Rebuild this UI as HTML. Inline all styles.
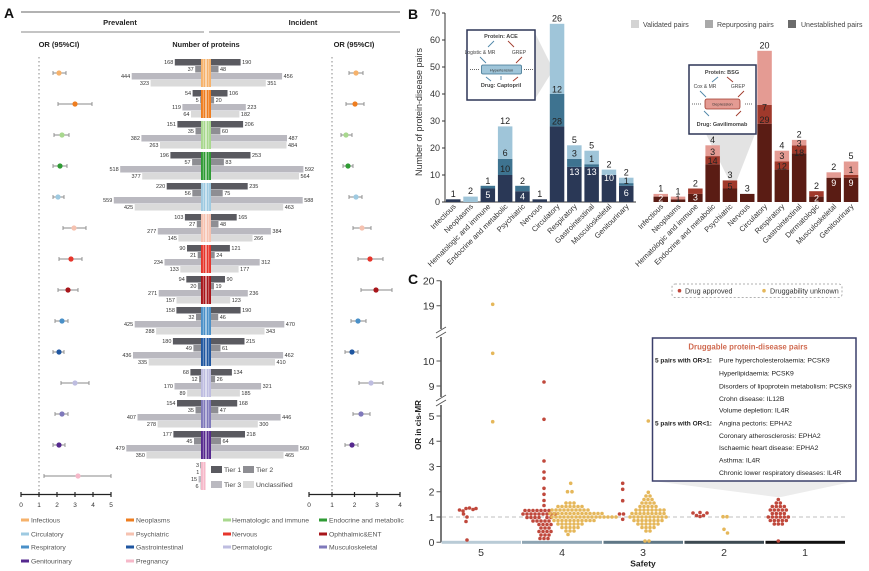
<!DOCTYPE html>
<html><head><meta charset="utf-8"><style>
html,body{margin:0;padding:0;background:#fff;}
body{width:869px;height:571px;overflow:hidden;}
svg{display:block;}
text{font-family:"Liberation Sans",Arial,sans-serif;}
.l{font-size:5.5px;text-anchor:end;fill:#333;}
.r{font-size:5.5px;fill:#333;}
.c1{fill:#5a5a60}.c2{fill:#8e8e93}.c3{fill:#bab9c0}.c4{fill:#dadada}
.eb{stroke:#8a8a8a;stroke-width:0.9;fill:none;}
.bl{font-size:9px;text-anchor:middle;fill:#222;}
.bw{font-size:9px;text-anchor:middle;fill:#fff;}
.xl{font-size:7.5px;text-anchor:end;fill:#333;}
.lg{font-size:6.8px;fill:#555;}
.it{font-size:6.8px;fill:#222;}
</style></head><body>
<svg width="869" height="571" viewBox="0 0 869 571" xmlns="http://www.w3.org/2000/svg">
<rect width="869" height="571" fill="#fff"/>

<!-- ================= PANEL A ================= -->
<text x="4" y="18" font-size="14" font-weight="bold" fill="#111">A</text>
<line x1="21" y1="12" x2="400" y2="12" stroke="#666" stroke-width="1"/>
<text x="120" y="25" font-size="7.5" font-weight="bold" text-anchor="middle" fill="#222">Prevalent</text>
<text x="303" y="25" font-size="7.5" font-weight="bold" text-anchor="middle" fill="#222">Incident</text>
<line x1="21" y1="32" x2="204" y2="32" stroke="#888" stroke-width="1"/>
<line x1="209" y1="32" x2="400" y2="32" stroke="#888" stroke-width="1"/>
<text x="59" y="47" font-size="7.5" font-weight="bold" text-anchor="middle" fill="#222">OR (95%CI)</text>
<text x="206" y="47" font-size="7.3" font-weight="bold" text-anchor="middle" fill="#222">Number of proteins</text>
<text x="354" y="47" font-size="7.5" font-weight="bold" text-anchor="middle" fill="#222">OR (95%CI)</text>

<line x1="39" y1="57" x2="39" y2="493" stroke="#888" stroke-width="1" stroke-dasharray="1.5,2.5"/>
<line x1="332" y1="57" x2="332" y2="493" stroke="#888" stroke-width="1" stroke-dasharray="1.5,2.5"/>

<!-- G0 Infectious -->
<g transform="translate(0,59)">
<rect class="c1" x="174.8" y="0" width="26.2" height="6.5"/><rect class="c2" x="195.2" y="7" width="5.8" height="6.5"/><rect class="c3" x="131.7" y="14" width="69.3" height="6.5"/><rect class="c4" x="150.6" y="21" width="50.4" height="6.5"/>
<text class="l" x="173.3" y="5.2">168</text><text class="l" x="193.7" y="12.2">37</text><text class="l" x="130.2" y="19.2">444</text><text class="l" x="149.1" y="26.2">323</text>
<rect class="c1" x="211" y="0" width="29.6" height="6.5"/><rect class="c2" x="211" y="7" width="7.5" height="6.5"/><rect class="c3" x="211" y="14" width="71.1" height="6.5"/><rect class="c4" x="211" y="21" width="54.8" height="6.5"/>
<text class="r" x="242.1" y="5.2">190</text><text class="r" x="220" y="12.2">48</text><text class="r" x="283.6" y="19.2">456</text><text class="r" x="267.3" y="26.2">351</text>
<g fill="#f6b26b"><rect x="201" y="0" width="4.5" height="28"/><rect x="206.5" y="0" width="4.5" height="28"/></g>
<g fill="#fff" opacity=".55"><rect x="202.9" y="0" width="0.7" height="28"/><rect x="208.4" y="0" width="0.7" height="28"/></g>
<path class="eb" d="M53 14H66M53 12V16M66 12V16"/><circle cx="59" cy="14" r="2.6" fill="#f6b26b"/>
<path class="eb" d="M349 14H363M349 12V16M363 12V16"/><circle cx="356" cy="14" r="2.6" fill="#f6b26b"/>
</g>
<!-- G1 Neoplasms -->
<g transform="translate(0,90)">
<rect class="c1" x="192.6" y="0" width="8.4" height="6.5"/><rect class="c2" x="200.2" y="7" width="0.8" height="6.5"/><rect class="c3" x="182.4" y="14" width="18.6" height="6.5"/><rect class="c4" x="191" y="21" width="10" height="6.5"/>
<text class="l" x="191.1" y="5.2">54</text><text class="l" x="198.7" y="12.2">5</text><text class="l" x="180.9" y="19.2">119</text><text class="l" x="189.5" y="26.2">64</text>
<rect class="c1" x="211" y="0" width="16.5" height="6.5"/><rect class="c2" x="211" y="7" width="3.1" height="6.5"/><rect class="c3" x="211" y="14" width="34.8" height="6.5"/><rect class="c4" x="211" y="21" width="28.4" height="6.5"/>
<text class="r" x="229" y="5.2">106</text><text class="r" x="215.6" y="12.2">20</text><text class="r" x="247.3" y="19.2">223</text><text class="r" x="240.9" y="26.2">182</text>
<g fill="#ee7d1f"><rect x="201" y="0" width="4.5" height="28"/><rect x="206.5" y="0" width="4.5" height="28"/></g>
<g fill="#fff" opacity=".55"><rect x="202.9" y="0" width="0.7" height="28"/><rect x="208.4" y="0" width="0.7" height="28"/></g>
<path class="eb" d="M58 14H92M58 12V16M92 12V16"/><circle cx="75" cy="14" r="2.6" fill="#ee7d1f"/>
<path class="eb" d="M346 14H364M346 12V16M364 12V16"/><circle cx="355" cy="14" r="2.6" fill="#ee7d1f"/>
</g>
<!-- G2 Hematologic -->
<g transform="translate(0,121)">
<rect class="c1" x="177.4" y="0" width="23.6" height="6.5"/><rect class="c2" x="195.5" y="7" width="5.5" height="6.5"/><rect class="c3" x="141.4" y="14" width="59.6" height="6.5"/><rect class="c4" x="160" y="21" width="41" height="6.5"/>
<text class="l" x="175.9" y="5.2">151</text><text class="l" x="194" y="12.2">35</text><text class="l" x="139.9" y="19.2">382</text><text class="l" x="158.5" y="26.2">263</text>
<rect class="c1" x="211" y="0" width="32.1" height="6.5"/><rect class="c2" x="211" y="7" width="9.4" height="6.5"/><rect class="c3" x="211" y="14" width="76" height="6.5"/><rect class="c4" x="211" y="21" width="75.5" height="6.5"/>
<text class="r" x="244.6" y="5.2">206</text><text class="r" x="221.9" y="12.2">60</text><text class="r" x="288.5" y="19.2">487</text><text class="r" x="288" y="26.2">484</text>
<g fill="#a8d88e"><rect x="201" y="0" width="4.5" height="28"/><rect x="206.5" y="0" width="4.5" height="28"/></g>
<g fill="#fff" opacity=".55"><rect x="202.9" y="0" width="0.7" height="28"/><rect x="208.4" y="0" width="0.7" height="28"/></g>
<path class="eb" d="M54 14H69M54 12V16M69 12V16"/><circle cx="62" cy="14" r="2.6" fill="#a8d88e"/>
<path class="eb" d="M341 14H352M341 12V16M352 12V16"/><circle cx="346" cy="14" r="2.6" fill="#a8d88e"/>
</g>
<!-- G3 Endocrine -->
<g transform="translate(0,152)">
<rect class="c1" x="170.4" y="0" width="30.6" height="6.5"/><rect class="c2" x="192.1" y="7" width="8.9" height="6.5"/><rect class="c3" x="120.2" y="14" width="80.8" height="6.5"/><rect class="c4" x="142.2" y="21" width="58.8" height="6.5"/>
<text class="l" x="168.9" y="5.2">196</text><text class="l" x="190.6" y="12.2">57</text><text class="l" x="118.7" y="19.2">518</text><text class="l" x="140.7" y="26.2">377</text>
<rect class="c1" x="211" y="0" width="39.5" height="6.5"/><rect class="c2" x="211" y="7" width="12.9" height="6.5"/><rect class="c3" x="211" y="14" width="92.4" height="6.5"/><rect class="c4" x="211" y="21" width="88" height="6.5"/>
<text class="r" x="252" y="5.2">253</text><text class="r" x="225.4" y="12.2">83</text><text class="r" x="304.9" y="19.2">592</text><text class="r" x="300.5" y="26.2">564</text>
<g fill="#2f9b34"><rect x="201" y="0" width="4.5" height="28"/><rect x="206.5" y="0" width="4.5" height="28"/></g>
<g fill="#fff" opacity=".55"><rect x="202.9" y="0" width="0.7" height="28"/><rect x="208.4" y="0" width="0.7" height="28"/></g>
<path class="eb" d="M53 14H67M53 12V16M67 12V16"/><circle cx="60" cy="14" r="2.6" fill="#2f9b34"/>
<path class="eb" d="M343 14H353M343 12V16M353 12V16"/><circle cx="348" cy="14" r="2.6" fill="#2f9b34"/>
</g>
<!-- G4 Circulatory -->
<g transform="translate(0,183)">
<rect class="c1" x="166.7" y="0" width="34.3" height="6.5"/><rect class="c2" x="192.3" y="7" width="8.7" height="6.5"/><rect class="c3" x="113.8" y="14" width="87.2" height="6.5"/><rect class="c4" x="134.7" y="21" width="66.3" height="6.5"/>
<text class="l" x="165.2" y="5.2">220</text><text class="l" x="190.8" y="12.2">56</text><text class="l" x="112.3" y="19.2">559</text><text class="l" x="133.2" y="26.2">425</text>
<rect class="c1" x="211" y="0" width="36.7" height="6.5"/><rect class="c2" x="211" y="7" width="11.7" height="6.5"/><rect class="c3" x="211" y="14" width="91.7" height="6.5"/><rect class="c4" x="211" y="21" width="72.2" height="6.5"/>
<text class="r" x="249.2" y="5.2">235</text><text class="r" x="224.2" y="12.2">75</text><text class="r" x="304.2" y="19.2">588</text><text class="r" x="284.7" y="26.2">463</text>
<g fill="#9ecae1"><rect x="201" y="0" width="4.5" height="28"/><rect x="206.5" y="0" width="4.5" height="28"/></g>
<g fill="#fff" opacity=".55"><rect x="202.9" y="0" width="0.7" height="28"/><rect x="208.4" y="0" width="0.7" height="28"/></g>
<path class="eb" d="M53 14H64M53 12V16M64 12V16"/><circle cx="58" cy="14" r="2.6" fill="#9ecae1"/>
<path class="eb" d="M349 14H362M349 12V16M362 12V16"/><circle cx="356" cy="14" r="2.6" fill="#9ecae1"/>
</g>
<!-- G5 Psychiatric -->
<g transform="translate(0,214)">
<rect class="c1" x="184.9" y="0" width="16.1" height="6.5"/><rect class="c2" x="196.8" y="7" width="4.2" height="6.5"/><rect class="c3" x="157.8" y="14" width="43.2" height="6.5"/><rect class="c4" x="178.4" y="21" width="22.6" height="6.5"/>
<text class="l" x="183.4" y="5.2">103</text><text class="l" x="195.3" y="12.2">27</text><text class="l" x="156.3" y="19.2">277</text><text class="l" x="176.9" y="26.2">145</text>
<rect class="c1" x="211" y="0" width="25.7" height="6.5"/><rect class="c2" x="211" y="7" width="7.5" height="6.5"/><rect class="c3" x="211" y="14" width="59.9" height="6.5"/><rect class="c4" x="211" y="21" width="41.5" height="6.5"/>
<text class="r" x="238.2" y="5.2">165</text><text class="r" x="220" y="12.2">48</text><text class="r" x="272.4" y="19.2">384</text><text class="r" x="254" y="26.2">266</text>
<g fill="#f6c2b0"><rect x="201" y="0" width="4.5" height="28"/><rect x="206.5" y="0" width="4.5" height="28"/></g>
<g fill="#fff" opacity=".55"><rect x="202.9" y="0" width="0.7" height="28"/><rect x="208.4" y="0" width="0.7" height="28"/></g>
<path class="eb" d="M63 14H86M63 12V16M86 12V16"/><circle cx="74" cy="14" r="2.6" fill="#f6c2b0"/>
<path class="eb" d="M353 14H371M353 12V16M371 12V16"/><circle cx="362" cy="14" r="2.6" fill="#f6c2b0"/>
</g>
<!-- G6 Nervous -->
<g transform="translate(0,245)">
<rect class="c1" x="187" y="0" width="14" height="6.5"/><rect class="c2" x="197.7" y="7" width="3.3" height="6.5"/><rect class="c3" x="164.5" y="14" width="36.5" height="6.5"/><rect class="c4" x="180.3" y="21" width="20.7" height="6.5"/>
<text class="l" x="185.5" y="5.2">90</text><text class="l" x="196.2" y="12.2">21</text><text class="l" x="163" y="19.2">234</text><text class="l" x="178.8" y="26.2">133</text>
<rect class="c1" x="211" y="0" width="18.9" height="6.5"/><rect class="c2" x="211" y="7" width="3.7" height="6.5"/><rect class="c3" x="211" y="14" width="48.7" height="6.5"/><rect class="c4" x="211" y="21" width="27.6" height="6.5"/>
<text class="r" x="231.4" y="5.2">121</text><text class="r" x="216.2" y="12.2">24</text><text class="r" x="261.2" y="19.2">312</text><text class="r" x="240.1" y="26.2">177</text>
<g fill="#e6352b"><rect x="201" y="0" width="4.5" height="28"/><rect x="206.5" y="0" width="4.5" height="28"/></g>
<g fill="#fff" opacity=".55"><rect x="202.9" y="0" width="0.7" height="28"/><rect x="208.4" y="0" width="0.7" height="28"/></g>
<path class="eb" d="M59 14H82M59 12V16M82 12V16"/><circle cx="71" cy="14" r="2.6" fill="#e6352b"/>
<path class="eb" d="M358 14H383M358 12V16M383 12V16"/><circle cx="370" cy="14" r="2.6" fill="#e6352b"/>
</g>
<!-- G7 Ophthalmic -->
<g transform="translate(0,276)">
<rect class="c1" x="186.3" y="0" width="14.7" height="6.5"/><rect class="c2" x="197.9" y="7" width="3.1" height="6.5"/><rect class="c3" x="158.7" y="14" width="42.3" height="6.5"/><rect class="c4" x="176.5" y="21" width="24.5" height="6.5"/>
<text class="l" x="184.8" y="5.2">94</text><text class="l" x="196.4" y="12.2">20</text><text class="l" x="157.2" y="19.2">271</text><text class="l" x="175" y="26.2">157</text>
<rect class="c1" x="211" y="0" width="14" height="6.5"/><rect class="c2" x="211" y="7" width="3" height="6.5"/><rect class="c3" x="211" y="14" width="36.8" height="6.5"/><rect class="c4" x="211" y="21" width="19.2" height="6.5"/>
<text class="r" x="226.5" y="5.2">90</text><text class="r" x="215.5" y="12.2">19</text><text class="r" x="249.3" y="19.2">236</text><text class="r" x="231.7" y="26.2">123</text>
<g fill="#a8151a"><rect x="201" y="0" width="4.5" height="28"/><rect x="206.5" y="0" width="4.5" height="28"/></g>
<g fill="#fff" opacity=".55"><rect x="202.9" y="0" width="0.7" height="28"/><rect x="208.4" y="0" width="0.7" height="28"/></g>
<path class="eb" d="M58 14H78M58 12V16M78 12V16"/><circle cx="68" cy="14" r="2.6" fill="#a8151a"/>
<path class="eb" d="M361 14H392M361 12V16M392 12V16"/><circle cx="376" cy="14" r="2.6" fill="#a8151a"/>
</g>
<!-- G8 Respiratory -->
<g transform="translate(0,307)">
<rect class="c1" x="176.4" y="0" width="24.6" height="6.5"/><rect class="c2" x="196" y="7" width="5" height="6.5"/><rect class="c3" x="134.7" y="14" width="66.3" height="6.5"/><rect class="c4" x="156.1" y="21" width="44.9" height="6.5"/>
<text class="l" x="174.9" y="5.2">158</text><text class="l" x="194.5" y="12.2">32</text><text class="l" x="133.2" y="19.2">425</text><text class="l" x="154.6" y="26.2">288</text>
<rect class="c1" x="211" y="0" width="29.6" height="6.5"/><rect class="c2" x="211" y="7" width="7.2" height="6.5"/><rect class="c3" x="211" y="14" width="73.3" height="6.5"/><rect class="c4" x="211" y="21" width="53.5" height="6.5"/>
<text class="r" x="242.1" y="5.2">190</text><text class="r" x="219.7" y="12.2">46</text><text class="r" x="285.8" y="19.2">470</text><text class="r" x="266" y="26.2">343</text>
<g fill="#4a90c8"><rect x="201" y="0" width="4.5" height="28"/><rect x="206.5" y="0" width="4.5" height="28"/></g>
<g fill="#fff" opacity=".55"><rect x="202.9" y="0" width="0.7" height="28"/><rect x="208.4" y="0" width="0.7" height="28"/></g>
<path class="eb" d="M55 14H68M55 12V16M68 12V16"/><circle cx="62" cy="14" r="2.6" fill="#4a90c8"/>
<path class="eb" d="M351 14H366M351 12V16M366 12V16"/><circle cx="358" cy="14" r="2.6" fill="#4a90c8"/>
</g>
<!-- G9 Gastrointestinal -->
<g transform="translate(0,338)">
<rect class="c1" x="172.9" y="0" width="28.1" height="6.5"/><rect class="c2" x="193.4" y="7" width="7.6" height="6.5"/><rect class="c3" x="133" y="14" width="68" height="6.5"/><rect class="c4" x="148.7" y="21" width="52.3" height="6.5"/>
<text class="l" x="171.4" y="5.2">180</text><text class="l" x="191.9" y="12.2">49</text><text class="l" x="131.5" y="19.2">436</text><text class="l" x="147.2" y="26.2">335</text>
<rect class="c1" x="211" y="0" width="33.5" height="6.5"/><rect class="c2" x="211" y="7" width="9.5" height="6.5"/><rect class="c3" x="211" y="14" width="72.1" height="6.5"/><rect class="c4" x="211" y="21" width="64" height="6.5"/>
<text class="r" x="246" y="5.2">215</text><text class="r" x="222" y="12.2">61</text><text class="r" x="284.6" y="19.2">462</text><text class="r" x="276.5" y="26.2">410</text>
<g fill="#1f56a0"><rect x="201" y="0" width="4.5" height="28"/><rect x="206.5" y="0" width="4.5" height="28"/></g>
<g fill="#fff" opacity=".55"><rect x="202.9" y="0" width="0.7" height="28"/><rect x="208.4" y="0" width="0.7" height="28"/></g>
<path class="eb" d="M53 14H64M53 12V16M64 12V16"/><circle cx="59" cy="14" r="2.6" fill="#1f56a0"/>
<path class="eb" d="M345 14H358M345 12V16M358 12V16"/><circle cx="352" cy="14" r="2.6" fill="#1f56a0"/>
</g>
<!-- G10 Dermatologic -->
<g transform="translate(0,369)">
<rect class="c1" x="190.4" y="0" width="10.6" height="6.5"/><rect class="c2" x="199.1" y="7" width="1.9" height="6.5"/><rect class="c3" x="174.5" y="14" width="26.5" height="6.5"/><rect class="c4" x="187.1" y="21" width="13.9" height="6.5"/>
<text class="l" x="188.9" y="5.2">68</text><text class="l" x="197.6" y="12.2">12</text><text class="l" x="173" y="19.2">170</text><text class="l" x="185.6" y="26.2">89</text>
<rect class="c1" x="211" y="0" width="20.9" height="6.5"/><rect class="c2" x="211" y="7" width="4.1" height="6.5"/><rect class="c3" x="211" y="14" width="50.1" height="6.5"/><rect class="c4" x="211" y="21" width="28.9" height="6.5"/>
<text class="r" x="233.4" y="5.2">134</text><text class="r" x="216.6" y="12.2">26</text><text class="r" x="262.6" y="19.2">321</text><text class="r" x="241.4" y="26.2">185</text>
<g fill="#bebde0"><rect x="201" y="0" width="4.5" height="28"/><rect x="206.5" y="0" width="4.5" height="28"/></g>
<g fill="#fff" opacity=".55"><rect x="202.9" y="0" width="0.7" height="28"/><rect x="208.4" y="0" width="0.7" height="28"/></g>
<path class="eb" d="M61 14H89M61 12V16M89 12V16"/><circle cx="75" cy="14" r="2.6" fill="#bebde0"/>
<path class="eb" d="M359 14H383M359 12V16M383 12V16"/><circle cx="371" cy="14" r="2.6" fill="#bebde0"/>
</g>
<!-- G11 Musculoskeletal -->
<g transform="translate(0,400)">
<rect class="c1" x="177" y="0" width="24" height="6.5"/><rect class="c2" x="195.5" y="7" width="5.5" height="6.5"/><rect class="c3" x="137.5" y="14" width="63.5" height="6.5"/><rect class="c4" x="157.6" y="21" width="43.4" height="6.5"/>
<text class="l" x="175.5" y="5.2">154</text><text class="l" x="194" y="12.2">35</text><text class="l" x="136" y="19.2">407</text><text class="l" x="156.1" y="26.2">278</text>
<rect class="c1" x="211" y="0" width="26.2" height="6.5"/><rect class="c2" x="211" y="7" width="7.3" height="6.5"/><rect class="c3" x="211" y="14" width="69.6" height="6.5"/><rect class="c4" x="211" y="21" width="46.8" height="6.5"/>
<text class="r" x="238.7" y="5.2">168</text><text class="r" x="219.8" y="12.2">47</text><text class="r" x="282.1" y="19.2">446</text><text class="r" x="259.3" y="26.2">300</text>
<g fill="#7f79bb"><rect x="201" y="0" width="4.5" height="28"/><rect x="206.5" y="0" width="4.5" height="28"/></g>
<g fill="#fff" opacity=".55"><rect x="202.9" y="0" width="0.7" height="28"/><rect x="208.4" y="0" width="0.7" height="28"/></g>
<path class="eb" d="M55 14H68M55 12V16M68 12V16"/><circle cx="62" cy="14" r="2.6" fill="#7f79bb"/>
<path class="eb" d="M353 14H370M353 12V16M370 12V16"/><circle cx="361" cy="14" r="2.6" fill="#7f79bb"/>
</g>
<!-- G12 Genitourinary -->
<g transform="translate(0,431)">
<rect class="c1" x="173.4" y="0" width="27.6" height="6.5"/><rect class="c2" x="194" y="7" width="7" height="6.5"/><rect class="c3" x="126.3" y="14" width="74.7" height="6.5"/><rect class="c4" x="146.4" y="21" width="54.6" height="6.5"/>
<text class="l" x="171.9" y="5.2">177</text><text class="l" x="192.5" y="12.2">45</text><text class="l" x="124.8" y="19.2">479</text><text class="l" x="144.9" y="26.2">350</text>
<rect class="c1" x="211" y="0" width="34" height="6.5"/><rect class="c2" x="211" y="7" width="10" height="6.5"/><rect class="c3" x="211" y="14" width="87.4" height="6.5"/><rect class="c4" x="211" y="21" width="72.5" height="6.5"/>
<text class="r" x="246.5" y="5.2">218</text><text class="r" x="222.5" y="12.2">64</text><text class="r" x="299.9" y="19.2">560</text><text class="r" x="285" y="26.2">465</text>
<g fill="#56298f"><rect x="201" y="0" width="4.5" height="28"/><rect x="206.5" y="0" width="4.5" height="28"/></g>
<g fill="#fff" opacity=".55"><rect x="202.9" y="0" width="0.7" height="28"/><rect x="208.4" y="0" width="0.7" height="28"/></g>
<path class="eb" d="M53 14H65M53 12V16M65 12V16"/><circle cx="59" cy="14" r="2.6" fill="#56298f"/>
<path class="eb" d="M345 14H358M345 12V16M358 12V16"/><circle cx="352" cy="14" r="2.6" fill="#56298f"/>
</g>
<!-- G13 Pregnancy -->
<g transform="translate(0,462)">
<rect class="c1" x="200.5" y="0" width="0.5" height="6.5"/><rect class="c2" x="200.8" y="7" width="0.2" height="6.5"/><rect class="c3" x="198.6" y="14" width="2.4" height="6.5"/><rect class="c4" x="200.1" y="21" width="0.9" height="6.5"/>
<text class="l" x="199" y="5.2">3</text><text class="l" x="199.3" y="12.2">1</text><text class="l" x="197.1" y="19.2">15</text><text class="l" x="198.6" y="26.2">6</text>
<rect x="201" y="0" width="4.5" height="28" fill="#f6b8c9"/>
<rect x="202.9" y="0" width="0.7" height="28" fill="#fff" opacity=".55"/>
<path class="eb" d="M44 14H111M44 12V16M111 12V16"/><circle cx="78" cy="14" r="2.6" fill="#f6b8c9"/>
</g>

<!-- tier legend -->
<rect class="c1" x="211" y="466" width="11" height="7"/><text x="224" y="472" font-size="6.8" fill="#444">Tier 1</text>
<rect class="c2" x="243" y="466" width="11" height="7"/><text x="256" y="472" font-size="6.8" fill="#444">Tier 2</text>
<rect class="c3" x="211" y="481" width="11" height="7"/><text x="224" y="487" font-size="6.8" fill="#444">Tier 3</text>
<rect class="c4" x="243" y="481" width="11" height="7"/><text x="256" y="487" font-size="6.8" fill="#444">Unclassified</text>

<!-- OR axes -->
<g stroke="#222" stroke-width="1.2" fill="none">
<path d="M21 494.5H111M21 492V497M39 492V497M57 492V497M75 492V497M93 492V497M111 492V497"/>
<path d="M309 494.5H400M309 492V497M332 492V497M354.5 492V497M377 492V497M400 492V497"/>
</g>
<g font-size="6.5" fill="#333" text-anchor="middle">
<text x="21" y="507">0</text><text x="39" y="507">1</text><text x="57" y="507">2</text><text x="75" y="507">3</text><text x="93" y="507">4</text><text x="111" y="507">5</text>
<text x="309" y="507">0</text><text x="332" y="507">1</text><text x="354.5" y="507">2</text><text x="377" y="507">3</text><text x="400" y="507">4</text>
</g>

<!-- category legend -->
<g>
<rect x="21" y="518.5" width="8" height="3" fill="#f6b26b"/><text class="lg" x="31" y="522.5">Infectious</text>
<rect x="126" y="518.5" width="8" height="3" fill="#ee7d1f"/><text class="lg" x="136" y="522.5">Neoplasms</text>
<rect x="223" y="518.5" width="8" height="3" fill="#a8d88e"/><text class="lg" x="232" y="522.5">Hematologic and immune</text>
<rect x="319" y="518.5" width="8" height="3" fill="#2f9b34"/><text class="lg" x="329" y="522.5">Endocrine and metabolic</text>
<rect x="21" y="532.5" width="8" height="3" fill="#9ecae1"/><text class="lg" x="31" y="536.5">Circulatory</text>
<rect x="126" y="532.5" width="8" height="3" fill="#f6c2b0"/><text class="lg" x="136" y="536.5">Psychiatric</text>
<rect x="223" y="532.5" width="8" height="3" fill="#e6352b"/><text class="lg" x="232" y="536.5">Nervous</text>
<rect x="319" y="532.5" width="8" height="3" fill="#a8151a"/><text class="lg" x="329" y="536.5">Ophthalmic&amp;ENT</text>
<rect x="21" y="545.5" width="8" height="3" fill="#4a90c8"/><text class="lg" x="31" y="549.5">Respiratory</text>
<rect x="126" y="545.5" width="8" height="3" fill="#1f56a0"/><text class="lg" x="136" y="549.5">Gastrointestinal</text>
<rect x="223" y="545.5" width="8" height="3" fill="#bebde0"/><text class="lg" x="232" y="549.5">Dermatologic</text>
<rect x="319" y="545.5" width="8" height="3" fill="#7f79bb"/><text class="lg" x="329" y="549.5">Musculoskeletal</text>
<rect x="21" y="559.5" width="8" height="3" fill="#56298f"/><text class="lg" x="31" y="563.5">Genitourinary</text>
<rect x="126" y="559.5" width="8" height="3" fill="#f6b8c9"/><text class="lg" x="136" y="563.5">Pregnancy</text>
</g>

<!-- ================= PANEL B ================= -->
<text x="408" y="19" font-size="14" font-weight="bold" fill="#111">B</text>
<text transform="translate(422,112) rotate(-90)" font-size="9" text-anchor="middle" fill="#333">Number of protein-disease pairs</text>
<g stroke="#333" stroke-width="1" fill="none">
<path d="M445 13V202H636"/>
<path d="M442 202H445M442 175H445M442 148H445M442 121H445M442 94H445M442 67H445M442 40H445M442 13H445"/>
</g>
<g font-size="9" text-anchor="end" fill="#333">
<text x="440" y="205">0</text><text x="440" y="178">10</text><text x="440" y="151">20</text><text x="440" y="124">30</text><text x="440" y="97">40</text><text x="440" y="70">50</text><text x="440" y="43">60</text><text x="440" y="16">70</text>
</g>

<!-- callout shapes -->
<polygon points="535,33 550,63 550,75 535,99" fill="#e3e3e3"/>
<polygon points="706,134 755,134 737,180 729,180" fill="#e3e3e3"/>

<!-- blue bars -->
<g>
<rect x="446" y="199.3" width="14.5" height="2.7" fill="#2a3856"/>
<rect x="463.3" y="196.6" width="14.5" height="5.4" fill="#9fc5d9"/>
<rect x="480.6" y="188.5" width="14.5" height="13.5" fill="#2a3856"/><rect x="480.6" y="185.8" width="14.5" height="2.7" fill="#3e7390"/>
<rect x="497.9" y="175" width="14.5" height="27" fill="#2a3856"/><rect x="497.9" y="158.8" width="14.5" height="16.2" fill="#3e7390"/><rect x="497.9" y="126.4" width="14.5" height="32.4" fill="#9fc5d9"/>
<rect x="515.2" y="191.2" width="14.5" height="10.8" fill="#2a3856"/><rect x="515.2" y="185.8" width="14.5" height="5.4" fill="#3e7390"/>
<rect x="532.5" y="199.3" width="14.5" height="2.7" fill="#2a3856"/>
<rect x="549.8" y="126.4" width="14.5" height="75.6" fill="#2a3856"/><rect x="549.8" y="94" width="14.5" height="32.4" fill="#3e7390"/><rect x="549.8" y="23.8" width="14.5" height="70.2" fill="#9fc5d9"/>
<rect x="567.1" y="166.9" width="14.5" height="35.1" fill="#2a3856"/><rect x="567.1" y="158.8" width="14.5" height="8.1" fill="#3e7390"/><rect x="567.1" y="145.3" width="14.5" height="13.5" fill="#9fc5d9"/>
<rect x="584.4" y="166.9" width="14.5" height="35.1" fill="#2a3856"/><rect x="584.4" y="164.2" width="14.5" height="2.7" fill="#3e7390"/><rect x="584.4" y="150.7" width="14.5" height="13.5" fill="#9fc5d9"/>
<rect x="601.7" y="175" width="14.5" height="27" fill="#2a3856"/><rect x="601.7" y="169.6" width="14.5" height="5.4" fill="#9fc5d9"/>
<rect x="619" y="185.8" width="14.5" height="16.2" fill="#2a3856"/><rect x="619" y="183.1" width="14.5" height="2.7" fill="#3e7390"/><rect x="619" y="177.7" width="14.5" height="5.4" fill="#9fc5d9"/>
</g>
<g>
<text class="bl" x="453.25" y="197">1</text>
<text class="bl" x="470.55" y="194">2</text>
<text class="bl" x="487.85" y="184">1</text><text class="bw" x="487.85" y="198">5</text>
<text class="bl" x="505.15" y="124">12</text><text class="bl" x="505.15" y="156">6</text><text class="bl" x="505.15" y="172">10</text>
<text class="bl" x="522.45" y="184">2</text><text class="bw" x="522.45" y="199.5">4</text>
<text class="bl" x="539.75" y="197">1</text>
<text class="bl" x="557.05" y="21.5">26</text><text class="bl" x="557.05" y="92.5">12</text><text class="bl" x="557.05" y="124.5">28</text>
<text class="bl" x="574.35" y="143">5</text><text class="bl" x="574.35" y="156.5">3</text><text class="bw" x="574.35" y="175">13</text>
<text class="bl" x="591.65" y="148.5">5</text><text class="bl" x="591.65" y="162">1</text><text class="bw" x="591.65" y="175">13</text>
<text class="bl" x="608.95" y="167.5">2</text><text class="bw" x="608.95" y="181">10</text>
<text class="bl" x="626.25" y="175.5">2</text><text class="bl" x="626.25" y="184" font-size="7">1</text><text class="bw" x="626.25" y="196">6</text>
</g>

<!-- red bars -->
<g>
<rect x="653.5" y="196.6" width="14.5" height="5.4" fill="#5a1c14"/><rect x="653.5" y="193.9" width="14.5" height="2.7" fill="#e49b93"/>
<rect x="670.8" y="199.3" width="14.5" height="2.7" fill="#5a1c14"/><rect x="670.8" y="196.6" width="14.5" height="2.7" fill="#e49b93"/>
<rect x="688.1" y="193.9" width="14.5" height="8.1" fill="#5a1c14"/><rect x="688.1" y="188.5" width="14.5" height="5.4" fill="#a0392b"/>
<rect x="705.4" y="164.2" width="14.5" height="37.8" fill="#5a1c14"/><rect x="705.4" y="156.1" width="14.5" height="8.1" fill="#a0392b"/><rect x="705.4" y="145.3" width="14.5" height="10.8" fill="#e49b93"/>
<rect x="722.7" y="188.5" width="14.5" height="13.5" fill="#5a1c14"/><rect x="722.7" y="180.4" width="14.5" height="8.1" fill="#a0392b"/>
<rect x="740" y="193.9" width="14.5" height="8.1" fill="#5a1c14"/>
<rect x="757.3" y="123.7" width="14.5" height="78.3" fill="#5a1c14"/><rect x="757.3" y="104.8" width="14.5" height="18.9" fill="#a0392b"/><rect x="757.3" y="50.8" width="14.5" height="54" fill="#e49b93"/>
<rect x="774.6" y="169.6" width="14.5" height="32.4" fill="#5a1c14"/><rect x="774.6" y="161.5" width="14.5" height="8.1" fill="#a0392b"/><rect x="774.6" y="150.7" width="14.5" height="10.8" fill="#e49b93"/>
<rect x="791.9" y="153.4" width="14.5" height="48.6" fill="#5a1c14"/><rect x="791.9" y="145.3" width="14.5" height="8.1" fill="#a0392b"/><rect x="791.9" y="139.9" width="14.5" height="5.4" fill="#e49b93"/>
<rect x="809.2" y="196.6" width="14.5" height="5.4" fill="#5a1c14"/><rect x="809.2" y="191.2" width="14.5" height="5.4" fill="#a0392b"/>
<rect x="826.5" y="177.7" width="14.5" height="24.3" fill="#5a1c14"/><rect x="826.5" y="172.3" width="14.5" height="5.4" fill="#e49b93"/>
<rect x="843.8" y="177.7" width="14.5" height="24.3" fill="#5a1c14"/><rect x="843.8" y="175" width="14.5" height="2.7" fill="#a0392b"/><rect x="843.8" y="161.5" width="14.5" height="13.5" fill="#e49b93"/>
</g>
<g>
<text class="bl" x="660.75" y="191.5">1</text><text class="bw" x="660.75" y="201.5" font-size="7.5">2</text>
<text class="bl" x="678.05" y="194.5">1</text><text class="bl" x="678.05" y="202" font-size="7" fill="#7a3a32">1</text>
<text class="bl" x="695.35" y="186.5">2</text><text class="bw" x="695.35" y="200.5">3</text>
<text class="bl" x="712.65" y="143">4</text><text class="bl" x="712.65" y="155">3</text><text class="bl" x="712.65" y="164">14</text>
<text class="bl" x="729.95" y="178">3</text><text class="bl" x="729.95" y="189.5">5</text>
<text class="bl" x="747.25" y="191.5">3</text>
<text class="bl" x="764.55" y="48.5">20</text><text class="bl" x="764.55" y="110.5">7</text><text class="bl" x="764.55" y="123">29</text>
<text class="bl" x="781.85" y="148.5">4</text><text class="bl" x="781.85" y="159">3</text><text class="bl" x="781.85" y="169.5">12</text>
<text class="bl" x="799.15" y="137.5">2</text><text class="bl" x="799.15" y="146.5">3</text><text class="bl" x="799.15" y="156">18</text>
<text class="bl" x="816.45" y="189">2</text><text class="bw" x="816.45" y="201.5">2</text>
<text class="bl" x="833.75" y="170">2</text><text class="bw" x="833.75" y="186">9</text>
<text class="bl" x="851.05" y="159">5</text><text class="bl" x="851.05" y="173">1</text><text class="bw" x="851.05" y="186">9</text>
</g>

<!-- B x labels -->
<g>
<text class="xl" transform="translate(456.3,207) rotate(-45)">Infectious</text>
<text class="xl" transform="translate(473.6,207) rotate(-45)">Neoplasms</text>
<text class="xl" transform="translate(490.9,207) rotate(-45)">Hematologic and immune</text>
<text class="xl" transform="translate(508.2,207) rotate(-45)">Endocrine and metabolic</text>
<text class="xl" transform="translate(525.5,207) rotate(-45)">Psychiatric</text>
<text class="xl" transform="translate(542.8,207) rotate(-45)">Nervous</text>
<text class="xl" transform="translate(560.1,207) rotate(-45)">Circulatory</text>
<text class="xl" transform="translate(577.4,207) rotate(-45)">Respiratory</text>
<text class="xl" transform="translate(594.7,207) rotate(-45)">Gastrointestinal</text>
<text class="xl" transform="translate(612,207) rotate(-45)">Musculoskeletal</text>
<text class="xl" transform="translate(629.3,207) rotate(-45)">Genitourinary</text>

<text class="xl" transform="translate(663.8,207) rotate(-45)">Infectious</text>
<text class="xl" transform="translate(681.1,207) rotate(-45)">Neoplasms</text>
<text class="xl" transform="translate(698.4,207) rotate(-45)">Hematologic and immune</text>
<text class="xl" transform="translate(715.7,207) rotate(-45)">Endocrine and metabolic</text>
<text class="xl" transform="translate(733,207) rotate(-45)">Psychiatric</text>
<text class="xl" transform="translate(750.3,207) rotate(-45)">Nervous</text>
<text class="xl" transform="translate(767.6,207) rotate(-45)">Circulatory</text>
<text class="xl" transform="translate(784.9,207) rotate(-45)">Respiratory</text>
<text class="xl" transform="translate(802.2,207) rotate(-45)">Gastrointestinal</text>
<text class="xl" transform="translate(819.5,207) rotate(-45)">Dermatologic</text>
<text class="xl" transform="translate(836.8,207) rotate(-45)">Musculoskeletal</text>
<text class="xl" transform="translate(854.1,207) rotate(-45)">Genitourinary</text>
</g>

<!-- B legend -->
<rect x="631" y="20" width="8" height="8" fill="#d3d3d3"/><text x="643" y="27" font-size="7" fill="#444">Validated pairs</text>
<rect x="705" y="20" width="8" height="8" fill="#a9a9a9"/><text x="717" y="27" font-size="7" fill="#444">Repurposing pairs</text>
<rect x="788" y="20" width="8" height="8" fill="#6b6b6b"/><text x="801" y="27" font-size="7" fill="#444">Unestablished pairs</text>

<!-- blue inset -->
<rect x="467" y="30" width="68" height="70" fill="#fff" stroke="#2d3557" stroke-width="1.5"/>
<text x="501" y="38" font-size="5.5" font-weight="bold" text-anchor="middle" fill="#444">Protein: ACE</text>
<text x="480" y="54" font-size="5" text-anchor="middle" fill="#444">Logistic &amp; MR</text>
<text x="519" y="54" font-size="5" text-anchor="middle" fill="#444">GREP</text>
<g stroke-width="0.9">
<line x1="494" y1="41" x2="488" y2="47" stroke="#4e86a8"/><line x1="508" y1="41" x2="514" y2="47" stroke="#a0392b"/>
<line x1="480" y1="57" x2="486" y2="63" stroke="#4e86a8"/><line x1="522" y1="57" x2="516" y2="63" stroke="#a0392b"/>
<line x1="486" y1="77" x2="491" y2="81" stroke="#4e86a8"/><line x1="501" y1="76" x2="501" y2="80" stroke="#4e86a8"/><line x1="518" y1="77" x2="513" y2="81" stroke="#a0392b"/>
<line x1="470" y1="69.5" x2="479" y2="69.5" stroke="#666" stroke-dasharray="1,1"/><line x1="524" y1="69.5" x2="533" y2="69.5" stroke="#666" stroke-dasharray="1,1"/>
</g>
<rect x="481.5" y="65" width="40" height="9" rx="1.5" fill="#9fc5d9" stroke="#3e7390" stroke-width="0.8"/>
<text x="501.5" y="71.3" font-size="4" text-anchor="middle" fill="#333">Hypertension</text>
<text x="501" y="87" font-size="5.5" font-weight="bold" text-anchor="middle" fill="#444">Drug: Captopril</text>

<!-- red inset -->
<rect x="689" y="65" width="67" height="69" fill="#fff" stroke="#2d3557" stroke-width="1.5"/>
<text x="722" y="74" font-size="5.5" font-weight="bold" text-anchor="middle" fill="#444">Protein: BSG</text>
<text x="705" y="88" font-size="5" text-anchor="middle" fill="#444">Cox &amp; MR</text>
<text x="738" y="88" font-size="5" text-anchor="middle" fill="#444">GREP</text>
<g stroke-width="0.9">
<line x1="718" y1="77" x2="712" y2="82" stroke="#4e86a8"/><line x1="727" y1="77" x2="733" y2="82" stroke="#a0392b"/>
<line x1="700" y1="91" x2="706" y2="97" stroke="#4e86a8"/><line x1="744" y1="91" x2="738" y2="97" stroke="#a0392b"/>
<line x1="704" y1="111" x2="709" y2="116" stroke="#4e86a8"/><line x1="741" y1="111" x2="736" y2="116" stroke="#a0392b"/>
<line x1="692" y1="104" x2="701" y2="104" stroke="#666" stroke-dasharray="1,1"/><line x1="745" y1="104" x2="753" y2="104" stroke="#666" stroke-dasharray="1,1"/>
</g>
<rect x="705" y="99" width="35" height="10" rx="2" fill="#e49b93" stroke="#a0392b" stroke-width="0.8"/>
<text x="722.5" y="105.5" font-size="4" text-anchor="middle" fill="#333">Depression</text>
<text x="722" y="126" font-size="5.5" font-weight="bold" text-anchor="middle" fill="#444">Drug: Gavilimomab</text>

<!-- ================= PANEL C ================= -->
<text x="408" y="284" font-size="14" font-weight="bold" fill="#111">C</text>
<text transform="translate(421,425) rotate(-90)" font-size="8" font-weight="bold" text-anchor="middle" fill="#222">OR in cis-MR</text>
<path d="M441 280.7V329M441 337V397M441 405V542.3" stroke="#6a6a6a" stroke-width="1.8" fill="none"/>
<path d="M436 333L446 327M436 338L446 332M436 401L446 395M436 406L446 400" stroke="#555" stroke-width="0.9"/>
<path d="M436.5 280.7H441M436.5 305.7H441M436.5 361H441M436.5 386H441M436.5 416H441M436.5 441.3H441M436.5 466.5H441M436.5 491.8H441M436.5 517H441M436.5 542.3H441" stroke="#555" stroke-width="1"/>
<g font-size="10.5" text-anchor="end" fill="#333">
<text x="434.5" y="284.5">20</text><text x="434.5" y="309.5">19</text><text x="434.5" y="364.8">10</text><text x="434.5" y="389.8">9</text>
<text x="434.5" y="419.8">5</text><text x="434.5" y="445.1">4</text><text x="434.5" y="470.3">3</text><text x="434.5" y="495.6">2</text><text x="434.5" y="520.8">1</text><text x="434.5" y="546.1">0</text>
</g>
<line x1="442" y1="517" x2="845" y2="517" stroke="#aaa" stroke-width="0.8" stroke-dasharray="4,3"/>

<!-- callout in C -->
<polygon points="653,481 856,481 781,497 776,497" fill="#ececec"/>
<rect x="652.5" y="338" width="203.5" height="143" fill="#fff" stroke="#3a3f6a" stroke-width="1.5"/>
<text x="748" y="349.5" font-size="7.8" font-weight="bold" text-anchor="middle" fill="#d06a50">Druggable protein-disease pairs</text>
<text x="655" y="362.5" font-size="6.5" font-weight="bold" fill="#222">5 pairs with OR&gt;1:</text>
<text class="it" x="719" y="362.5">Pure hypercholesterolaemia: PCSK9</text>
<text class="it" x="719" y="375.6">Hyperlipidaemia: PCSK9</text>
<text class="it" x="719" y="388.3">Disorders of lipoprotein metabolism: PCSK9</text>
<text class="it" x="719" y="401">Crohn disease: IL12B</text>
<text class="it" x="719" y="412.5">Volume depletion: IL4R</text>
<text x="655" y="425.6" font-size="6.5" font-weight="bold" fill="#222">5 pairs with OR&lt;1:</text>
<text class="it" x="719" y="425.6">Angina pectoris: EPHA2</text>
<text class="it" x="719" y="437.8">Coronary atherosclerosis: EPHA2</text>
<text class="it" x="719" y="450">Ischaemic heart disease: EPHA2</text>
<text class="it" x="719" y="462.3">Asthma: IL4R</text>
<text class="it" x="719" y="475">Chronic lower respiratory diseases: IL4R</text>

<!-- C legend -->
<rect x="672" y="284" width="170" height="13.5" rx="3" fill="none" stroke="#999" stroke-width="0.8" stroke-dasharray="2,2"/>
<circle cx="679.5" cy="290.7" r="1.8" fill="#c0483c"/><text x="685" y="293.5" font-size="7.2" fill="#333">Drug approved</text>
<circle cx="764" cy="290.7" r="1.8" fill="#e5b75a"/><text x="770" y="293.5" font-size="7.2" fill="#333">Druggability unknown</text>

<!-- x axis colored -->
<rect x="441.7" y="540.8" width="79.3" height="3" fill="#b9cbd6"/>
<rect x="522" y="540.8" width="80" height="3" fill="#8ea5b3"/>
<rect x="603.5" y="540.8" width="79.5" height="3" fill="#5f7786"/>
<rect x="684.5" y="540.8" width="79.5" height="3" fill="#3d4a52"/>
<rect x="765.5" y="540.8" width="79.5" height="3" fill="#111"/>
<g font-size="10.5" text-anchor="middle" fill="#333">
<text x="481" y="556">5</text><text x="562" y="556">4</text><text x="643" y="556">3</text><text x="724" y="556">2</text><text x="805" y="556">1</text>
</g>
<text x="643" y="566.5" font-size="8.5" font-weight="bold" text-anchor="middle" fill="#222">Safety</text>

<!-- dots: red -->
<g fill="#c0483c">
<circle cx="459.5" cy="510" r="1.8"/><circle cx="463" cy="511" r="1.8"/><circle cx="466" cy="508.5" r="1.8"/><circle cx="469.5" cy="508" r="1.8"/><circle cx="473" cy="509.5" r="1.8"/><circle cx="476" cy="508.5" r="1.8"/><circle cx="463.5" cy="514" r="1.8"/><circle cx="467" cy="517" r="1.8"/><circle cx="466" cy="521.5" r="1.8"/><circle cx="467" cy="540" r="1.8"/>
<circle cx="544" cy="382" r="1.8"/><circle cx="544" cy="419.3" r="1.8"/><circle cx="544" cy="461" r="1.8"/><circle cx="544" cy="472" r="1.8"/><circle cx="544" cy="478.3" r="1.8"/><circle cx="544" cy="488.3" r="1.8"/><circle cx="544" cy="494.3" r="1.8"/><circle cx="544" cy="500.5" r="1.8"/><circle cx="544" cy="505.5" r="1.8"/>
<circle cx="525" cy="510.5" r="1.8"/><circle cx="529" cy="510.5" r="1.8"/><circle cx="533" cy="510.5" r="1.8"/><circle cx="537" cy="510.5" r="1.8"/><circle cx="541" cy="510.5" r="1.8"/><circle cx="545" cy="510.5" r="1.8"/><circle cx="549" cy="510.5" r="1.8"/>
<circle cx="523" cy="514" r="1.8"/><circle cx="527" cy="514" r="1.8"/><circle cx="531" cy="514" r="1.8"/><circle cx="535" cy="514" r="1.8"/><circle cx="539" cy="514" r="1.8"/><circle cx="543" cy="514" r="1.8"/><circle cx="547" cy="514" r="1.8"/><circle cx="551" cy="514" r="1.8"/><circle cx="555" cy="514" r="1.8"/>
<circle cx="527" cy="517.5" r="1.8"/><circle cx="531" cy="517.5" r="1.8"/><circle cx="535" cy="517.5" r="1.8"/><circle cx="539" cy="517.5" r="1.8"/><circle cx="547" cy="517.5" r="1.8"/><circle cx="551" cy="517.5" r="1.8"/>
<circle cx="533" cy="521" r="1.8"/><circle cx="537" cy="521" r="1.8"/><circle cx="541" cy="521" r="1.8"/><circle cx="545" cy="521" r="1.8"/><circle cx="549" cy="521" r="1.8"/>
<circle cx="539" cy="524.5" r="1.8"/><circle cx="543" cy="524.5" r="1.8"/><circle cx="547" cy="524.5" r="1.8"/><circle cx="551" cy="524.5" r="1.8"/>
<circle cx="541" cy="528" r="1.8"/><circle cx="545" cy="528" r="1.8"/><circle cx="549" cy="528" r="1.8"/>
<circle cx="539" cy="531.5" r="1.8"/><circle cx="543" cy="531.5" r="1.8"/><circle cx="547" cy="531.5" r="1.8"/><circle cx="551" cy="531.5" r="1.8"/>
<circle cx="541" cy="535" r="1.8"/><circle cx="545" cy="535" r="1.8"/><circle cx="549" cy="535" r="1.8"/>
<circle cx="540" cy="538.5" r="1.8"/><circle cx="544" cy="538.5" r="1.8"/><circle cx="548" cy="538.5" r="1.8"/>
<circle cx="622.7" cy="483.3" r="1.8"/><circle cx="622.7" cy="489.3" r="1.8"/><circle cx="622.7" cy="500.7" r="1.8"/><circle cx="619.5" cy="514" r="1.8"/><circle cx="623.5" cy="514" r="1.8"/><circle cx="622.7" cy="519.3" r="1.8"/>
<circle cx="693" cy="513" r="1.8"/><circle cx="696.5" cy="515.5" r="1.8"/><circle cx="700" cy="516.5" r="1.8"/><circle cx="703.5" cy="515.5" r="1.8"/><circle cx="707" cy="513" r="1.8"/><circle cx="700" cy="512.5" r="1.8"/>
<circle cx="778.3" cy="499.5" r="1.8"/>
<circle cx="776.3" cy="503" r="1.8"/><circle cx="780.3" cy="503" r="1.8"/>
<circle cx="772.3" cy="506.5" r="1.8"/><circle cx="776.3" cy="506.5" r="1.8"/><circle cx="780.3" cy="506.5" r="1.8"/><circle cx="784.3" cy="506.5" r="1.8"/>
<circle cx="770.3" cy="510" r="1.8"/><circle cx="774.3" cy="510" r="1.8"/><circle cx="778.3" cy="510" r="1.8"/><circle cx="782.3" cy="510" r="1.8"/><circle cx="786.3" cy="510" r="1.8"/>
<circle cx="772.3" cy="513.5" r="1.8"/><circle cx="776.3" cy="513.5" r="1.8"/><circle cx="780.3" cy="513.5" r="1.8"/><circle cx="784.3" cy="513.5" r="1.8"/>
<circle cx="768.3" cy="517" r="1.8"/><circle cx="772.3" cy="517" r="1.8"/><circle cx="776.3" cy="517" r="1.8"/><circle cx="780.3" cy="517" r="1.8"/><circle cx="784.3" cy="517" r="1.8"/><circle cx="788.3" cy="517" r="1.8"/>
<circle cx="770.3" cy="520.5" r="1.8"/><circle cx="774.3" cy="520.5" r="1.8"/><circle cx="778.3" cy="520.5" r="1.8"/><circle cx="782.3" cy="520.5" r="1.8"/><circle cx="786.3" cy="520.5" r="1.8"/>
<circle cx="774.3" cy="524" r="1.8"/><circle cx="778.3" cy="524" r="1.8"/><circle cx="782.3" cy="524" r="1.8"/>
<circle cx="778.3" cy="541" r="1.8"/>
</g>

<!-- dots: yellow -->
<g fill="#e5b75a">
<circle cx="492.7" cy="304.3" r="1.8"/><circle cx="492.7" cy="353.3" r="1.8"/><circle cx="492.7" cy="421.7" r="1.8"/>
<circle cx="570.7" cy="483.3" r="1.8"/><circle cx="567.5" cy="491.7" r="1.8"/><circle cx="572" cy="491.7" r="1.8"/>
<circle cx="566" cy="503" r="1.8"/><circle cx="570" cy="503" r="1.8"/><circle cx="574" cy="503" r="1.8"/>
<circle cx="558" cy="506.5" r="1.8"/><circle cx="562" cy="506.5" r="1.8"/><circle cx="566" cy="506.5" r="1.8"/><circle cx="570" cy="506.5" r="1.8"/><circle cx="574" cy="506.5" r="1.8"/><circle cx="578" cy="506.5" r="1.8"/><circle cx="582" cy="506.5" r="1.8"/>
<circle cx="552" cy="510" r="1.8"/><circle cx="556" cy="510" r="1.8"/><circle cx="560" cy="510" r="1.8"/><circle cx="564" cy="510" r="1.8"/><circle cx="568" cy="510" r="1.8"/><circle cx="572" cy="510" r="1.8"/><circle cx="576" cy="510" r="1.8"/><circle cx="580" cy="510" r="1.8"/><circle cx="584" cy="510" r="1.8"/><circle cx="588" cy="510" r="1.8"/>
<circle cx="550" cy="513.5" r="1.8"/><circle cx="554" cy="513.5" r="1.8"/><circle cx="558" cy="513.5" r="1.8"/><circle cx="562" cy="513.5" r="1.8"/><circle cx="566" cy="513.5" r="1.8"/><circle cx="570" cy="513.5" r="1.8"/><circle cx="574" cy="513.5" r="1.8"/><circle cx="578" cy="513.5" r="1.8"/><circle cx="582" cy="513.5" r="1.8"/><circle cx="586" cy="513.5" r="1.8"/><circle cx="590" cy="513.5" r="1.8"/><circle cx="594" cy="513.5" r="1.8"/><circle cx="598" cy="513.5" r="1.8"/><circle cx="602" cy="513.5" r="1.8"/>
<circle cx="552" cy="517" r="1.8"/><circle cx="556" cy="517" r="1.8"/><circle cx="560" cy="517" r="1.8"/><circle cx="564" cy="517" r="1.8"/><circle cx="568" cy="517" r="1.8"/><circle cx="572" cy="517" r="1.8"/><circle cx="576" cy="517" r="1.8"/><circle cx="580" cy="517" r="1.8"/><circle cx="584" cy="517" r="1.8"/><circle cx="588" cy="517" r="1.8"/><circle cx="592" cy="517" r="1.8"/><circle cx="596" cy="517" r="1.8"/><circle cx="600" cy="517" r="1.8"/><circle cx="604" cy="517" r="1.8"/><circle cx="608" cy="517" r="1.8"/><circle cx="612" cy="517" r="1.8"/><circle cx="616" cy="517" r="1.8"/>
<circle cx="554" cy="520.5" r="1.8"/><circle cx="558" cy="520.5" r="1.8"/><circle cx="562" cy="520.5" r="1.8"/><circle cx="566" cy="520.5" r="1.8"/><circle cx="570" cy="520.5" r="1.8"/><circle cx="574" cy="520.5" r="1.8"/><circle cx="578" cy="520.5" r="1.8"/><circle cx="582" cy="520.5" r="1.8"/><circle cx="586" cy="520.5" r="1.8"/><circle cx="590" cy="520.5" r="1.8"/><circle cx="594" cy="520.5" r="1.8"/>
<circle cx="558" cy="524" r="1.8"/><circle cx="562" cy="524" r="1.8"/><circle cx="566" cy="524" r="1.8"/><circle cx="570" cy="524" r="1.8"/><circle cx="574" cy="524" r="1.8"/><circle cx="578" cy="524" r="1.8"/><circle cx="582" cy="524" r="1.8"/>
<circle cx="562" cy="527.5" r="1.8"/><circle cx="566" cy="527.5" r="1.8"/><circle cx="570" cy="527.5" r="1.8"/><circle cx="574" cy="527.5" r="1.8"/><circle cx="578" cy="527.5" r="1.8"/>
<circle cx="566" cy="531" r="1.8"/><circle cx="570" cy="531" r="1.8"/><circle cx="574" cy="531" r="1.8"/>
<circle cx="568" cy="534.5" r="1.8"/>
<circle cx="648.3" cy="421" r="1.8"/>
<circle cx="648.3" cy="492.3" r="1.8"/>
<circle cx="646" cy="496" r="1.8"/><circle cx="650" cy="496" r="1.8"/>
<circle cx="644" cy="499.5" r="1.8"/><circle cx="648" cy="499.5" r="1.8"/><circle cx="652" cy="499.5" r="1.8"/>
<circle cx="642" cy="503" r="1.8"/><circle cx="646" cy="503" r="1.8"/><circle cx="650" cy="503" r="1.8"/><circle cx="654" cy="503" r="1.8"/>
<circle cx="640" cy="506.5" r="1.8"/><circle cx="644" cy="506.5" r="1.8"/><circle cx="648" cy="506.5" r="1.8"/><circle cx="652" cy="506.5" r="1.8"/><circle cx="656" cy="506.5" r="1.8"/>
<circle cx="636" cy="510" r="1.8"/><circle cx="640" cy="510" r="1.8"/><circle cx="644" cy="510" r="1.8"/><circle cx="648" cy="510" r="1.8"/><circle cx="652" cy="510" r="1.8"/><circle cx="656" cy="510" r="1.8"/><circle cx="660" cy="510" r="1.8"/><circle cx="664" cy="510" r="1.8"/>
<circle cx="632" cy="513.5" r="1.8"/><circle cx="636" cy="513.5" r="1.8"/><circle cx="640" cy="513.5" r="1.8"/><circle cx="644" cy="513.5" r="1.8"/><circle cx="648" cy="513.5" r="1.8"/><circle cx="652" cy="513.5" r="1.8"/><circle cx="656" cy="513.5" r="1.8"/><circle cx="660" cy="513.5" r="1.8"/><circle cx="664" cy="513.5" r="1.8"/>
<circle cx="630" cy="517" r="1.8"/><circle cx="634" cy="517" r="1.8"/><circle cx="638" cy="517" r="1.8"/><circle cx="642" cy="517" r="1.8"/><circle cx="646" cy="517" r="1.8"/><circle cx="650" cy="517" r="1.8"/><circle cx="654" cy="517" r="1.8"/><circle cx="658" cy="517" r="1.8"/><circle cx="662" cy="517" r="1.8"/><circle cx="666" cy="517" r="1.8"/>
<circle cx="634" cy="520.5" r="1.8"/><circle cx="638" cy="520.5" r="1.8"/><circle cx="642" cy="520.5" r="1.8"/><circle cx="646" cy="520.5" r="1.8"/><circle cx="650" cy="520.5" r="1.8"/><circle cx="654" cy="520.5" r="1.8"/><circle cx="658" cy="520.5" r="1.8"/><circle cx="662" cy="520.5" r="1.8"/>
<circle cx="638" cy="524" r="1.8"/><circle cx="642" cy="524" r="1.8"/><circle cx="646" cy="524" r="1.8"/><circle cx="650" cy="524" r="1.8"/><circle cx="654" cy="524" r="1.8"/><circle cx="658" cy="524" r="1.8"/>
<circle cx="642" cy="527.5" r="1.8"/><circle cx="646" cy="527.5" r="1.8"/><circle cx="650" cy="527.5" r="1.8"/><circle cx="654" cy="527.5" r="1.8"/>
<circle cx="646" cy="531" r="1.8"/><circle cx="650" cy="531" r="1.8"/>
<circle cx="645" cy="541" r="1.8"/><circle cx="649" cy="541" r="1.8"/>
<circle cx="723" cy="516.7" r="1.8"/><circle cx="727" cy="516.7" r="1.8"/><circle cx="724" cy="529.3" r="1.8"/><circle cx="727.5" cy="533" r="1.8"/>
</g>
</svg>
</body></html>
